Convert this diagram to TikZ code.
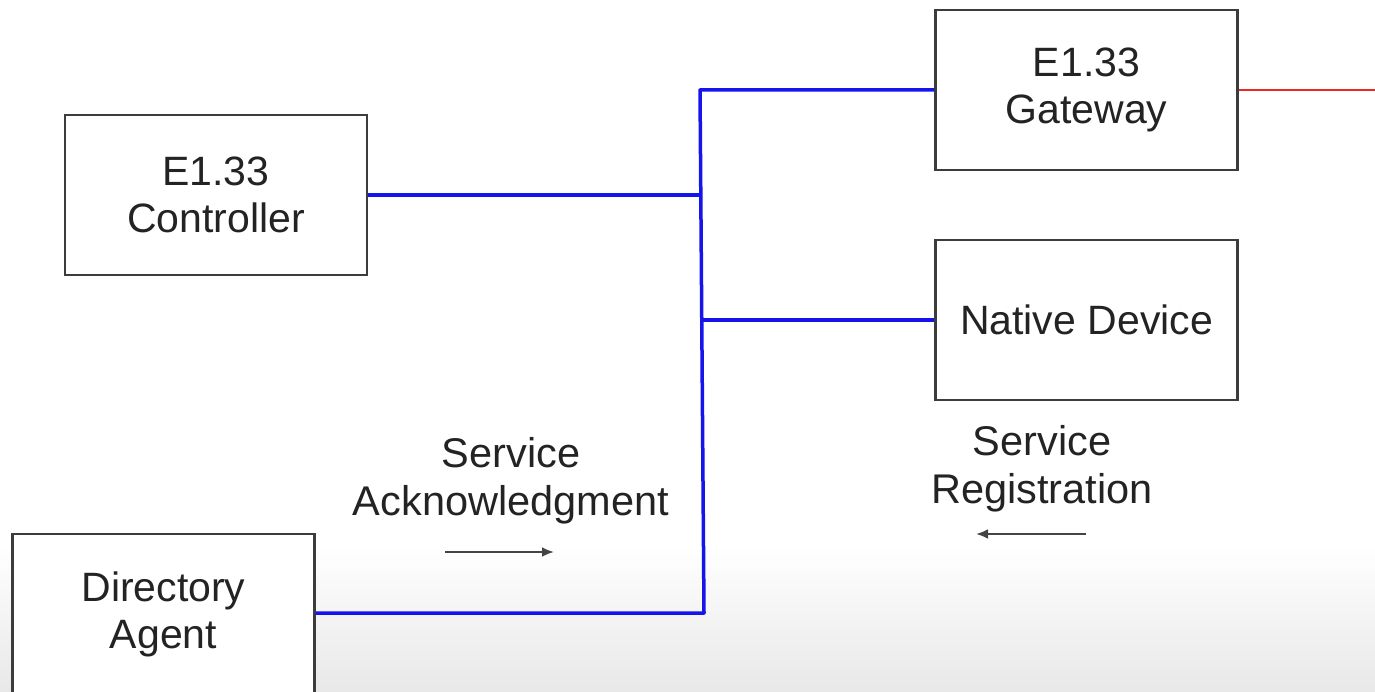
\documentclass[tikz,border=0pt]{standalone}
\usepackage{fontspec}
\setmainfont{Liberation Sans}
\usetikzlibrary{arrows.meta}
\definecolor{busblue}{RGB}{20,20,235}
\definecolor{linkred}{RGB}{235,40,40}
\definecolor{boxline}{RGB}{60,60,60}
\definecolor{inktext}{RGB}{35,35,35}
\tikzset{
  unitbox/.style={draw=boxline, line width=2.2pt, fill=white, minimum width=302pt,
    minimum height=160pt, align=center, text=inktext, inner sep=0pt,
    font=\fontsize{41}{47}\selectfont},
  caption/.style={align=center, text=inktext, inner sep=0pt,
    font=\fontsize{41.5}{48}\selectfont},
  bus/.style={draw=busblue, line width=3.5pt, line join=round},
  link/.style={draw=linkred, line width=2.2pt},
  flow/.style={draw=inktext!85, line width=2.4pt, -{Latex[length=12pt,width=10pt]}}
}
\begin{document}
\begin{tikzpicture}[x=1pt, y=-1pt]
  \useasboundingbox (0,0) rectangle (1375,692);
  % soft grey fade along the lower edge
  \shade[top color=white, bottom color=black!9] (0,545) rectangle (1375,692);

  % devices
  \node[unitbox] (ctrl) at (216,195) {E1.33\\Controller};
  \node[unitbox] (gw)   at (1086.5,90) {E1.33\\Gateway};
  \node[unitbox] (nd)   at (1086.5,320) {Native Device};
  \node[unitbox] (da)   at (163.5,614) {Directory\\Agent};

  % shared network bus
  \coordinate (bt) at (700,90);
  \coordinate (bc) at (700.7,195);
  \coordinate (bn) at (702.5,320);
  \coordinate (bb) at (704,613);
  \draw[bus] (gw.west) -- (bt) -- (bb) -- (da.east |- bb);
  \draw[bus] (ctrl.east) -- (bc);
  \draw[bus] (bn) -- (nd.west);

  % onward link from the gateway
  \coordinate (out) at (1375,90);
  \draw[link] (gw.east) -- (out);

  % message captions
  \node[caption] (ack) at (511,481) {Service\\Acknowledgment};
  \coordinate (ackA) at (445,552);
  \coordinate (ackB) at (554,552);
  \draw[flow] (ackA) -- (ackB);

  \node[caption] (reg) at (1042,469) {Service\\Registration};
  \coordinate (regA) at (1086,534);
  \coordinate (regB) at (976,534);
  \draw[flow] (regA) -- (regB);
\end{tikzpicture}
\end{document}
